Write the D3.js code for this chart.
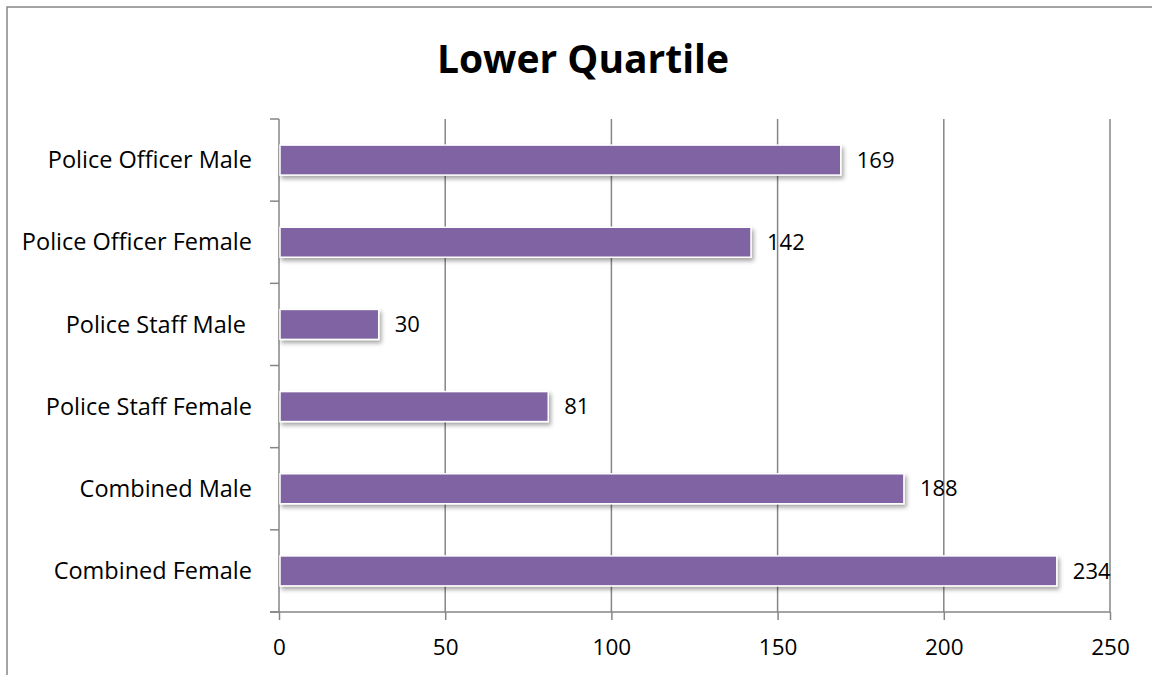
<!DOCTYPE html>
<html>
<head>
<meta charset="utf-8">
<script src="https://cdn.jsdelivr.net/npm/d3@7"></script>
<style>
  html, body { margin: 0; padding: 0; background: #ffffff; }
  svg { display: block; }
  text { font-family: "Open Sans", "Noto Sans", sans-serif; fill: #000; }
</style>
</head>
<body>
<svg id="chart" width="1152" height="675"></svg>
<script>
// Lower quartile counts by group
const categories = [
  "Police Officer Male",
  "Police Officer Female",
  "Police Staff Male ",
  "Police Staff Female",
  "Combined Male",
  "Combined Female"
];
const values = [169, 142, 30, 81, 188, 234];
const xTicks = [0, 50, 100, 150, 200, 250];
const title = "Lower Quartile";

const W = 1152, H = 675;
const margin = { left: 279, right: 42, top: 119, bottom: 63 };
const gridColor = "#868686";
const barColor = "#8064a2";

const svg = d3.select("#chart");

// Drop shadow used by the bars
const defs = svg.append("defs");
const f = defs.append("filter").attr("id", "barShadow")
  .attr("x", "-5%").attr("y", "-30%").attr("width", "115%").attr("height", "190%");
f.append("feDropShadow")
  .attr("dx", 2).attr("dy", 3).attr("stdDeviation", 2)
  .attr("flood-color", "#000").attr("flood-opacity", 0.35);

// Outer chart frame
svg.append("rect")
  .attr("x", 7).attr("y", 7)
  .attr("width", W + 20).attr("height", H + 20)
  .attr("fill", "none").attr("stroke", "#878787").attr("stroke-width", 1.5);

const x = d3.scaleLinear()
  .domain([0, 250])
  .range([margin.left, W - margin.right]);

const y = d3.scaleBand()
  .domain(categories)
  .range([margin.top, H - margin.bottom])
  .paddingInner(0.635)
  .paddingOuter(0.3175);

const plotTop = margin.top, plotBottom = H - margin.bottom;

// Title
svg.append("text")
  .attr("x", 583).attr("y", 73)
  .attr("text-anchor", "middle")
  .style("font-size", "39px").style("font-weight", "700")
  .text(title);

// Vertical gridlines
svg.append("g").selectAll("line")
  .data(xTicks.slice(1))
  .join("line")
  .attr("x1", d => x(d)).attr("x2", d => x(d))
  .attr("y1", plotTop).attr("y2", plotBottom)
  .attr("stroke", gridColor).attr("stroke-width", 1.5);

// X axis
const xAxis = svg.append("g")
  .attr("transform", `translate(0,${plotBottom})`)
  .call(d3.axisBottom(x).tickValues(xTicks).tickSize(8).tickPadding(19).tickSizeOuter(0));
xAxis.select(".domain").remove();
xAxis.selectAll(".tick line").attr("stroke", gridColor).attr("stroke-width", 1.5);
xAxis.selectAll(".tick text").style("font-size", "22.5px").attr("dy", "0.71em");
xAxis.append("line")
  .attr("x1", x(0) - 9).attr("x2", x(250))
  .attr("y1", 0).attr("y2", 0)
  .attr("stroke", gridColor).attr("stroke-width", 1.5);

// Y axis: category labels and boundary ticks
const yAxisG = svg.append("g");
yAxisG.append("line")
  .attr("x1", x(0)).attr("x2", x(0))
  .attr("y1", plotTop).attr("y2", plotBottom)
  .attr("stroke", gridColor).attr("stroke-width", 1.5);
const step = y.step();
const boundaries = d3.range(categories.length + 1).map(i => plotTop + i * step);
yAxisG.selectAll("line.tick")
  .data(boundaries)
  .join("line").attr("class", "tick")
  .attr("x1", x(0) - 9).attr("x2", x(0))
  .attr("y1", d => d).attr("y2", d => d)
  .attr("stroke", gridColor).attr("stroke-width", 1.5);
yAxisG.selectAll("text")
  .data(categories)
  .join("text")
  .attr("x", 252)
  .attr("y", d => y(d) + y.bandwidth() / 2)
  .attr("dy", "0.35em")
  .attr("text-anchor", "end")
  .style("font-size", "23.5px")
  .style("white-space", "pre")
  .attr("xml:space", "preserve")
  .text(d => d);

// Bars
const data = categories.map((c, i) => ({ cat: c, value: values[i] }));
svg.append("g").selectAll("rect")
  .data(data)
  .join("rect")
  .attr("x", x(0) + 1)
  .attr("y", d => y(d.cat))
  .attr("width", d => x(d.value) - x(0) - 1)
  .attr("height", y.bandwidth())
  .attr("fill", barColor)
  .attr("stroke", "#ffffff").attr("stroke-width", 1.5)
  .attr("filter", "url(#barShadow)");

// Value labels
svg.append("g").selectAll("text")
  .data(data)
  .join("text")
  .attr("x", d => x(d.value) + 16)
  .attr("y", d => y(d.cat) + y.bandwidth() / 2)
  .attr("dy", "0.35em")
  .style("font-size", "22px")
  .text(d => d.value);
</script>
</body>
</html>
